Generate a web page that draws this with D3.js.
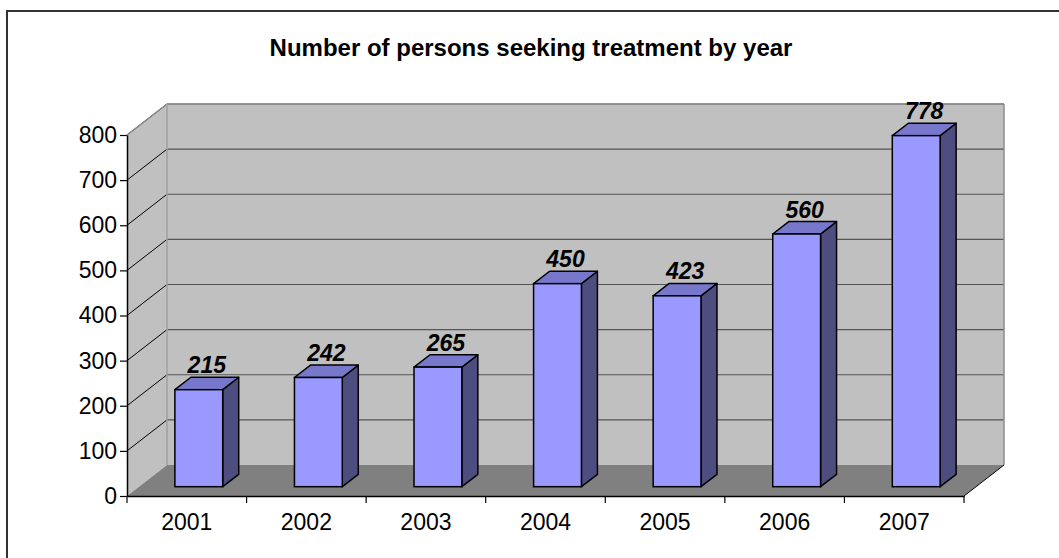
<!DOCTYPE html>
<html><head><meta charset="utf-8">
<script src="https://cdn.jsdelivr.net/npm/d3@7"></script>
<style>
html,body{margin:0;padding:0;background:#fff;}
svg{display:block;font-family:Arial,"Liberation Sans",sans-serif;}
</style></head>
<body>
<svg id="chart" width="1059" height="558"></svg>
<script>
const categories = ["2001","2002","2003","2004","2005","2006","2007"];
const values = [215,242,265,450,423,560,778];
const yTicks = [0,100,200,300,400,500,600,700,800];
const title = "Number of persons seeking treatment by year";

const svg = d3.select("#chart");
const X0 = 127, X1 = 964, Y0 = 496, Y1 = 135;
const DX = 40, DY = -31;
const x = d3.scaleBand().domain(categories).range([X0, X1]).paddingInner(0).paddingOuter(0);
const y = d3.scaleLinear().domain([0, 800]).range([Y0, Y1]);

// outer border
svg.append("rect").attr("x",7).attr("y",11).attr("width",1100).attr("height",600)
  .attr("fill","#fff").attr("stroke","#333").attr("stroke-width",2);

// title
svg.append("text").attr("x",531).attr("y",56).attr("text-anchor","middle")
  .attr("font-size",24).attr("font-weight","bold").attr("fill","#000").text(title);

const wallFill = "#c0c0c0", wallStroke = "#8c8c8c";
// back wall
svg.append("rect").attr("x",X0+DX).attr("y",Y1+DY).attr("width",X1-X0).attr("height",Y0-Y1)
  .attr("fill",wallFill);
// left side wall
svg.append("path").attr("d",`M${X0},${Y0}L${X0+DX},${Y0+DY}L${X0+DX},${Y1+DY}L${X0},${Y1}Z`)
  .attr("fill",wallFill);
// floor
svg.append("path").attr("d",`M${X0},${Y0}L${X0+DX},${Y0+DY}L${X1+DX},${Y0+DY}L${X1},${Y0}Z`)
  .attr("fill","#808080");

// gridlines
const grid = svg.append("g");
yTicks.filter(t=>t>0).forEach(t=>{
  grid.append("line").attr("x1",X0+DX).attr("x2",X1+DX).attr("y1",y(t)+DY).attr("y2",y(t)+DY)
    .attr("stroke","#555").attr("stroke-width",1.2);
  grid.append("line").attr("x1",X0).attr("x2",X0+DX).attr("y1",y(t)).attr("y2",y(t)+DY)
    .attr("stroke","#000").attr("stroke-width",1);
});
// wall edges
svg.append("line").attr("x1",X0).attr("y1",Y1).attr("x2",X0+DX).attr("y2",Y1+DY)
  .attr("stroke",wallStroke).attr("stroke-width",1.5);
svg.append("line").attr("x1",X0+DX).attr("y1",Y1+DY).attr("x2",X1+DX).attr("y2",Y1+DY)
  .attr("stroke",wallStroke).attr("stroke-width",1.5);
svg.append("line").attr("x1",X0+DX).attr("y1",Y1+DY).attr("x2",X0+DX).attr("y2",Y0+DY)
  .attr("stroke","#a0a0a0").attr("stroke-width",1.5);
svg.append("line").attr("x1",X1+DX).attr("y1",Y1+DY).attr("x2",X1+DX).attr("y2",Y0+DY)
  .attr("stroke",wallStroke).attr("stroke-width",1.5);
svg.append("line").attr("x1",X1).attr("y1",Y0).attr("x2",X1+DX).attr("y2",Y0+DY)
  .attr("stroke","#000").attr("stroke-width",1);

// bars
const d0 = 0.3, dd = 0.4, bwFrac = 0.4;
const bars = svg.append("g");
categories.forEach((c,i)=>{
  const v = values[i];
  const bw = x.bandwidth()*bwFrac;
  const fx = x(c) + (x.bandwidth()-bw)/2 + DX*d0;
  const oy = DY*d0;
  const yt = y(v) + oy, yb = y(0) + oy;
  const ddx = DX*dd, ddy = DY*dd;
  bars.append("path").attr("d",`M${fx+bw},${yb}L${fx+bw+ddx},${yb+ddy}L${fx+bw+ddx},${yt+ddy}L${fx+bw},${yt}Z`)
    .attr("fill","#4d4d80").attr("stroke","#000").attr("stroke-width",1.5).attr("stroke-linejoin","round");
  bars.append("path").attr("d",`M${fx},${yt}L${fx+ddx},${yt+ddy}L${fx+bw+ddx},${yt+ddy}L${fx+bw},${yt}Z`)
    .attr("fill","#7777cc").attr("stroke","#000").attr("stroke-width",1.5).attr("stroke-linejoin","round");
  bars.append("rect").attr("x",fx).attr("y",yt).attr("width",bw).attr("height",yb-yt)
    .attr("fill","#9999ff").attr("stroke","#000").attr("stroke-width",1.5);
  bars.append("text").attr("x",x(c)+x.bandwidth()/2+DX*0.5).attr("y",y(v)+DY*0.7-4)
    .attr("text-anchor","middle").attr("font-size",23).attr("font-weight","bold").attr("font-style","italic")
    .attr("fill","#000").text(v);
});

// Y axis
const yAxis = svg.append("g").attr("transform",`translate(${X0},0)`)
  .call(d3.axisLeft(y).tickValues(yTicks).tickSize(7).tickPadding(3).tickSizeOuter(0));
yAxis.select(".domain").attr("stroke","#000").attr("stroke-width",1.5);
yAxis.selectAll(".tick line").attr("stroke","#000").attr("stroke-width",1.2);
yAxis.selectAll(".tick text").attr("font-size",23).attr("fill","#000").attr("font-family","Arial,'Liberation Sans',sans-serif");

// X axis
const xAxis = svg.append("g").attr("transform",`translate(0,${Y0})`)
  .call(d3.axisBottom(x).tickSize(0).tickPadding(18).tickSizeOuter(0));
xAxis.select(".domain").attr("stroke","#000").attr("stroke-width",1.5);
xAxis.selectAll(".tick text").attr("font-size",23).attr("fill","#000").attr("font-family","Arial,'Liberation Sans',sans-serif");
const bounds = categories.map(c=>x(c)).concat([X1]);
xAxis.selectAll("line.bt").data(bounds).enter().append("line").attr("class","bt")
  .attr("x1",d=>d).attr("x2",d=>d).attr("y1",0).attr("y2",7).attr("stroke","#000").attr("stroke-width",1.2);
</script>
</body></html>
